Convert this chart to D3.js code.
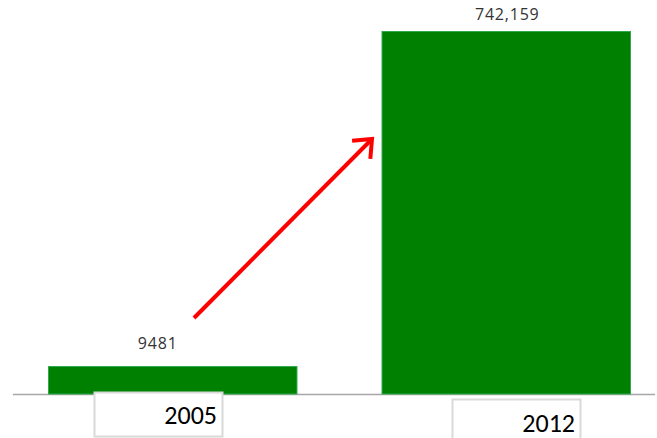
<!DOCTYPE html>
<html>
<head>
<meta charset="utf-8">
<script src="https://cdn.jsdelivr.net/npm/d3@7/dist/d3.min.js"></script>
<style>
  html, body { margin: 0; padding: 0; background: #fff; }
  svg { display: block; }
</style>
</head>
<body>
<script>
// Chart data
const categories = ["2005", "2012"];
const values = [9481, 742159];
const valueLabels = ["9481", "742,159"];
const titleText = "Growth of Mobile Users";

const W = 657, H = 438;
const svg = d3.select("body").append("svg").attr("width", W).attr("height", H);

// Title sits mostly above the visible area
svg.append("text")
  .attr("x", 6).attr("y", -0.5)
  .attr("font-family", "'Open Sans', sans-serif")
  .attr("font-size", 42)
  .attr("fill", "#595959")
  .attr("textLength", 424)
  .attr("lengthAdjust", "spacingAndGlyphs")
  .text(titleText);

const baseY = 394;
const xb = d3.scaleBand().domain(categories).range([48, 631]).paddingInner(0.252).paddingOuter(0);
const y = d3.scaleLog().domain([6590, 742159]).range([baseY, 31]);

// Baseline
svg.append("line")
  .attr("x1", 13).attr("x2", 655)
  .attr("y1", baseY + 0.5).attr("y2", baseY + 0.5)
  .attr("stroke", "#a6a6a6").attr("stroke-width", 1.5);

// Bars
svg.selectAll("rect.bar").data(values).join("rect")
  .attr("class", "bar")
  .attr("x", (d, i) => xb(categories[i]) + 0.5)
  .attr("y", d => y(d) + 0.5)
  .attr("width", xb.bandwidth() - 1)
  .attr("height", d => baseY - y(d) - 0.5)
  .attr("fill", "#008000")
  .attr("stroke", "#2fa84f")
  .attr("stroke-width", 1);

// Value labels
const labelDx = [-15, 1];
const labelDy = [-17, -11];
svg.selectAll("text.val").data(values).join("text")
  .attr("class", "val")
  .attr("x", (d, i) => xb(categories[i]) + xb.bandwidth() / 2 + labelDx[i])
  .attr("y", (d, i) => y(d) + labelDy[i])
  .attr("text-anchor", "middle")
  .attr("font-family", "'Open Sans', sans-serif")
  .attr("font-size", 16)
  .attr("letter-spacing", 0.8)
  .attr("fill", "#333")
  .text((d, i) => valueLabels[i]);

// Category label boxes
const boxes = [
  { x: 94, y: 392, w: 128, h: 44, ty: 424 },
  { x: 452, y: 399, w: 128, h: 44, ty: 432 }
];
const cat = svg.selectAll("g.cat").data(categories).join("g").attr("class", "cat");
cat.append("rect")
  .attr("x", (d, i) => boxes[i].x + 0.5).attr("y", (d, i) => boxes[i].y + 0.5)
  .attr("width", (d, i) => boxes[i].w).attr("height", (d, i) => boxes[i].h)
  .attr("fill", "#fff").attr("stroke", "#d9d9d9").attr("stroke-width", 2);
cat.append("text")
  .attr("x", (d, i) => boxes[i].x + boxes[i].w - 5)
  .attr("y", (d, i) => boxes[i].ty)
  .attr("text-anchor", "end")
  .attr("font-family", "Carlito, Calibri, 'Open Sans', sans-serif")
  .attr("font-size", 26)
  .attr("fill", "#000")
  .text(d => d);

// Growth arrow
const arrow = svg.append("g").attr("stroke", "#ff0000").attr("stroke-width", 4)
  .attr("fill", "none").attr("stroke-linecap", "butt");
const ax1 = 194, ay1 = 318, ax2 = 372, ay2 = 139;
arrow.append("line").attr("x1", ax1).attr("y1", ay1).attr("x2", ax2 - 2).attr("y2", ay2 + 2);
const ang = Math.atan2(ay2 - ay1, ax2 - ax1);
const hl = 20, spread = Math.PI / 4.5;
arrow.append("path")
  .attr("stroke-linejoin", "miter")
  .attr("d", d3.line()([
    [ax2 - hl * Math.cos(ang - spread), ay2 - hl * Math.sin(ang - spread)],
    [ax2, ay2],
    [ax2 - hl * Math.cos(ang + spread), ay2 - hl * Math.sin(ang + spread)]
  ]));
</script>
</body>
</html>
